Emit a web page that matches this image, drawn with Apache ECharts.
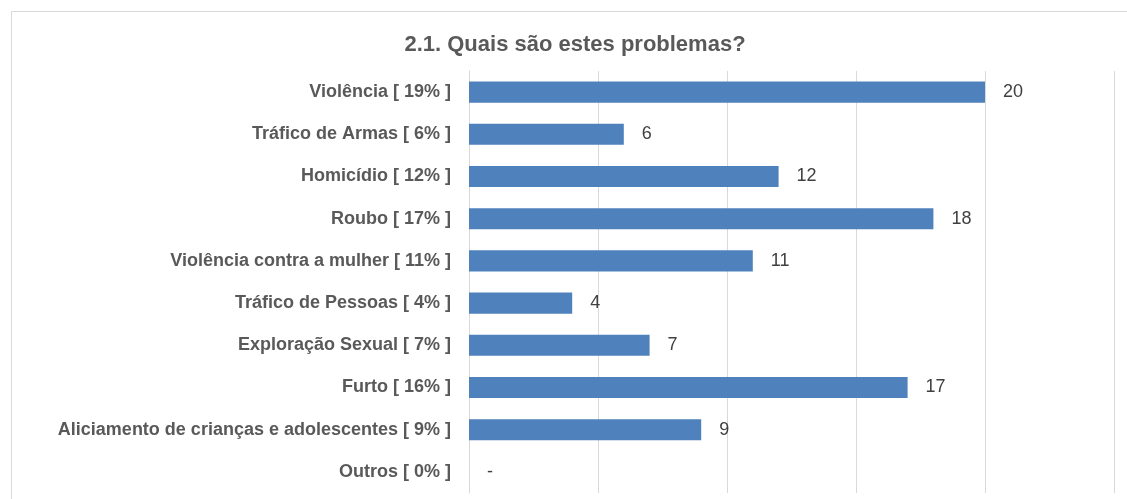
<!DOCTYPE html>
<html>
<head>
<meta charset="utf-8">
<script src="https://cdn.jsdelivr.net/npm/echarts@6/dist/echarts.min.js"></script>
<style>
html,body{margin:0;padding:0;background:#fff;}
#chart{width:1127px;height:499px;}
</style>
</head>
<body>
<div id="chart"></div>
<script>
const titleText = '2.1. Quais são estes problemas?';
const categories = [
  'Violência [ 19% ]',
  'Tráfico de Armas [ 6% ]',
  'Homicídio [ 12% ]',
  'Roubo [ 17% ]',
  'Violência contra a mulher [ 11% ]',
  'Tráfico de Pessoas [ 4% ]',
  'Exploração Sexual [ 7% ]',
  'Furto [ 16% ]',
  'Aliciamento de crianças e adolescentes [ 9% ]',
  'Outros [ 0% ]'
];
const values = [20, 6, 12, 18, 11, 4, 7, 17, 9, 0];

const chart = echarts.init(document.getElementById('chart'));
chart.setOption({
  animation: false,
  backgroundColor: '#fff',
  graphic: [{
    type: 'rect',
    shape: { x: 11.5, y: 11.5, width: 1300, height: 700 },
    style: { fill: 'none', stroke: '#d9d9d9', lineWidth: 1 },
    silent: true, z: -1
  }],
  title: {
    text: titleText,
    left: 570, top: 29, textAlign: 'center',
    textStyle: { fontFamily: 'Liberation Sans, Arial, sans-serif', fontSize: 22, fontWeight: 'bold', color: '#595959' }
  },
  grid: { left: 469, right: 13, top: 71, bottom: 6, containLabel: false },
  xAxis: {
    type: 'value', min: 0, max: 25, interval: 5,
    axisLabel: { show: false },
    axisLine: { show: false }, axisTick: { show: false },
    splitLine: { lineStyle: { color: '#d9d9d9', width: 1 } }
  },
  yAxis: {
    type: 'category', data: categories, inverse: true,
    axisTick: { show: false },
    axisLine: { lineStyle: { color: '#d9d9d9' } },
    axisLabel: {
      margin: 18,
      fontFamily: 'Liberation Sans, Arial, sans-serif', fontSize: 18, fontWeight: 'bold', color: '#595959'
    }
  },
  series: [{
    type: 'bar', data: values, barWidth: '50%',
    itemStyle: { color: '#4f81bd' },
    label: {
      show: true, position: 'right', distance: 18,
      formatter: p => p.value === 0 ? '-' : String(p.value),
      fontFamily: 'Liberation Sans, Arial, sans-serif', fontSize: 18, color: '#404040'
    }
  }]
});
</script>
</body>
</html>
